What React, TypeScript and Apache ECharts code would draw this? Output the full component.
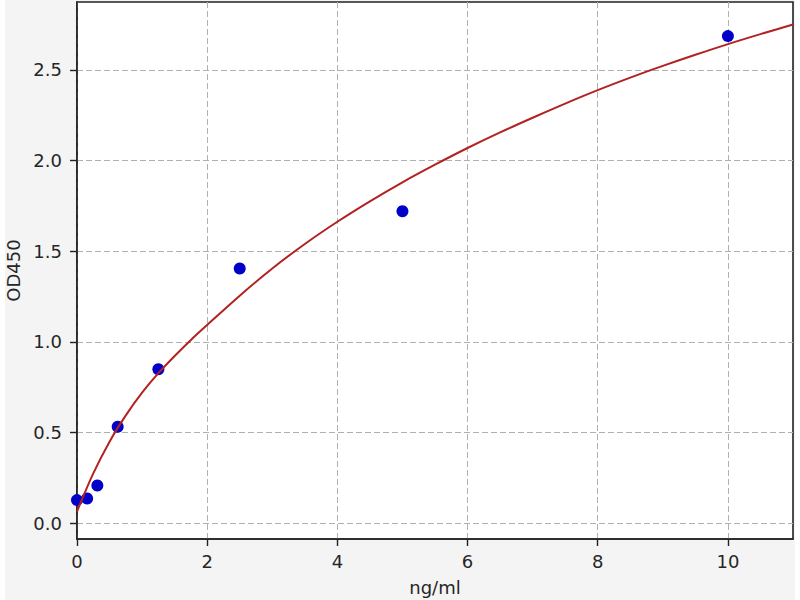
import React, { useEffect, useRef } from "react";
import * as echarts from "echarts";

// Measured standards (concentration ng/ml, OD450)
const stdConc = [0, 0.156, 0.3125, 0.625, 1.25, 2.5, 5, 10];
const stdOD = [0.128, 0.137, 0.208, 0.532, 0.849, 1.405, 1.72, 2.686];

// Fitted curve
const curveX = [0, 0.25, 0.5, 0.75, 1, 1.25, 1.5, 1.75, 2, 2.5, 3, 3.5, 4, 4.5, 5, 5.5, 6, 6.5, 7, 7.5, 8, 8.5, 9, 9.5, 10, 10.5, 11];
const curveY = [0.065, 0.275, 0.45, 0.595, 0.72, 0.8275, 0.9225, 1.011, 1.0935, 1.255, 1.405, 1.54, 1.6625, 1.775, 1.88, 1.977, 2.069, 2.155, 2.236, 2.314, 2.388, 2.457, 2.522, 2.583, 2.642, 2.697, 2.75];

const xTicks = [0, 2, 4, 6, 8, 10];
const yTicks = [0, 0.5, 1.0, 1.5, 2.0, 2.5];

const FONT = "DejaVu Sans";
const TEXT = "#262626";

export default function App() {
  const ref = useRef<HTMLDivElement>(null);
  useEffect(() => {
    document.body.style.margin = "0";
    const chart = echarts.init(ref.current!, null, { renderer: "svg" });
    const gridLine = { show: true, lineStyle: { color: "#b0b0b0", width: 1, type: [6, 3] as any } };
    chart.setOption({
      animation: false,
      backgroundColor: "#ffffff",
      textStyle: { fontFamily: FONT },
      graphic: {
        elements: [
          {
            type: "rect",
            z: -10,
            silent: true,
            shape: { x: 5, y: 0, width: 790, height: 600 },
            style: { fill: "#f4f4f4" },
          },
        ],
      },
      grid: {
        left: 77,
        right: 7,
        top: 2,
        bottom: 61,
        containLabel: false,
        outerBoundsMode: "none",
        show: true,
        backgroundColor: "#ffffff",
        borderColor: "#222222",
        borderWidth: 1.6,
      },
      xAxis: {
        type: "value",
        min: 0,
        max: 11,
        name: "ng/ml",
        nameLocation: "middle",
        nameGap: 39,
        nameTextStyle: { fontSize: 18, color: TEXT, fontFamily: FONT },
        axisLine: { show: true, onZero: false, lineStyle: { color: "#222222", width: 1.6 } },
        axisTick: { show: true, length: 7, customValues: xTicks, lineStyle: { color: "#222222", width: 1.4 } },
        axisLabel: {
          customValues: xTicks,
          fontSize: 18,
          color: TEXT,
          margin: 13,
          fontFamily: FONT,
          formatter: (v: number) => String(v),
        },
        splitLine: gridLine,
      },
      yAxis: {
        type: "value",
        min: -0.0866,
        max: 2.874,
        name: "OD450",
        nameLocation: "middle",
        nameGap: 55,
        nameTextStyle: { fontSize: 18, color: TEXT, fontFamily: FONT },
        axisLine: { show: true, onZero: false, lineStyle: { color: "#222222", width: 1.6 } },
        axisTick: { show: true, length: 7, customValues: yTicks, lineStyle: { color: "#222222", width: 1.4 } },
        axisLabel: {
          customValues: yTicks,
          fontSize: 18,
          color: TEXT,
          margin: 15,
          fontFamily: FONT,
          formatter: (v: number) => v.toFixed(1),
        },
        splitLine: gridLine,
      },
      series: [
        {
          type: "scatter",
          data: stdConc.map((c, i) => [c, stdOD[i]]),
          symbolSize: 12,
          itemStyle: { color: "#0000c8", opacity: 1 },
          z: 2,
        },
        {
          type: "line",
          data: curveX.map((x, i) => [x, curveY[i]]),
          showSymbol: false,
          smooth: 0.3,
          lineStyle: { color: "#b22222", width: 2 },
          z: 3,
        },
      ],
    });
    return () => chart.dispose();
  }, []);
  return <div ref={ref} style={{ width: 800, height: 600 }} />;
}
